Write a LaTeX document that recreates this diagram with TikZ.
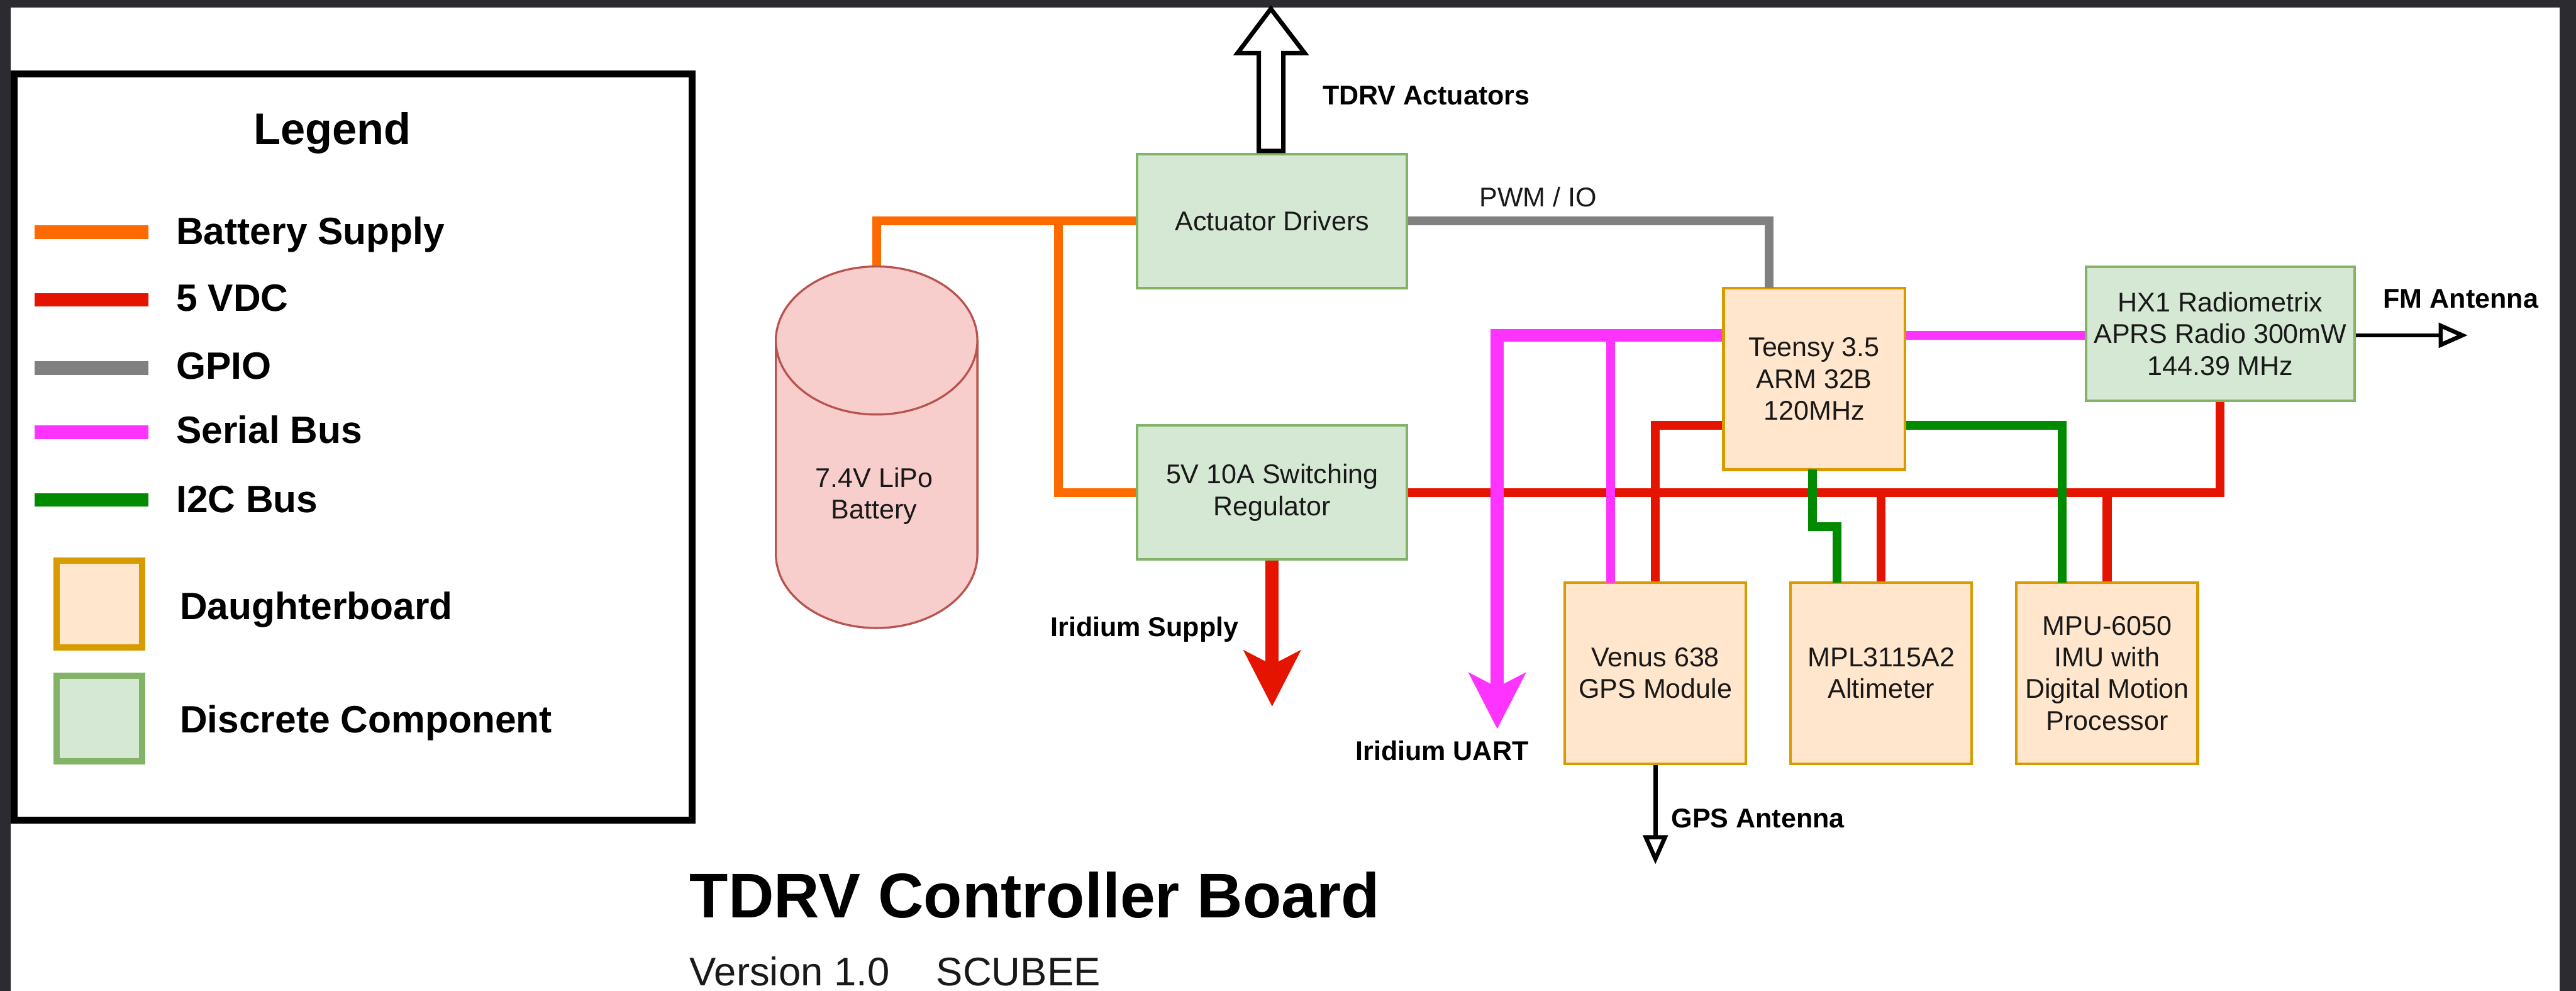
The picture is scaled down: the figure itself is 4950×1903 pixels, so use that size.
\documentclass[tikz,border=0pt]{standalone}
\usepackage{fontspec}
\setmainfont{Liberation Sans}
\usetikzlibrary{arrows.meta,shapes.geometric}

\definecolor{pageDark}{HTML}{2B2B30}
\definecolor{wireOrange}{HTML}{FF6A00}
\definecolor{wireRed}{HTML}{E51400}
\definecolor{wireGray}{HTML}{808080}
\definecolor{wireMagenta}{HTML}{FF33FF}
\definecolor{wireGreen}{HTML}{008A00}

\tikzset{
    % 1 px = 0.1 mm
    boxtext/.style={font=\fontsize{14.8}{17.3}\selectfont, align=center, text=black!90},
    boldtext/.style={font=\fontsize{14.8}{17.3}\selectfont\bfseries, anchor=base west, inner sep=0pt},
    legendtext/.style={font=\fontsize{20.8}{24}\selectfont\bfseries, anchor=base west, inner sep=0pt},
    daughter/.style={boxtext, draw={rgb,255:red,215;green,155;blue,0}, fill={rgb,255:red,255;green,230;blue,204},
        line width=0.5mm, minimum width=34.8mm, minimum height=34.8mm, inner sep=0pt},
    discrete/.style={boxtext, draw={rgb,255:red,130;green,179;blue,102}, fill={rgb,255:red,213;green,232;blue,212},
        line width=0.5mm, inner sep=0pt},
    wire/.style={line width=1.7mm, line join=miter},
    bigtip/.style={-{Stealth[length=10.7mm, width=10.8mm, inset=2.7mm]}},
    opentip/.style={line width=0.8mm, -{Triangle[open, length=5.6mm, width=4.7mm]}},
}

\begin{document}
\begin{tikzpicture}[x=0.01cm, y=-0.01cm]
    \useasboundingbox (0,0) rectangle (4950,1903);
    \fill[pageDark] (0,0) rectangle (4950,1903);
    \fill[white] (21,14) rectangle (4919,1903);

    % 凡例
    \draw[line width=1.3mm] (27,142) rectangle (1330,1575);
    \node[font=\fontsize{24.2}{28}\selectfont\bfseries, anchor=base] (legendTitle) at (639,277) {Legend};
    \foreach \y/\base/\col/\name in {446/469/wireOrange/Battery Supply, 576/598/wireRed/5 VDC, 707/728/wireGray/GPIO,
                                     830/851/wireMagenta/Serial Bus, 960/984/wireGreen/I2C Bus} {
        \draw[\col, line width=2.6mm] (67,\y) -- (285,\y);
        \node[legendtext] at (338,\base) {\name};
    }
    \node[daughter, minimum width=16.4mm, minimum height=16.6mm, line width=1.2mm] (legendDaughter) at (191,1160) {};
    \node[discrete, minimum width=16.4mm, minimum height=16.5mm, line width=1.2mm] (legendDiscrete) at (191,1380) {};
    \node[legendtext] at (345,1190) {Daughterboard};
    \node[legendtext] at (345,1407) {Discrete Component};

    % ブロック
    \node[cylinder, shape border rotate=90, aspect=1.26, draw={rgb,255:red,184;green,84;blue,80},
        fill={rgb,255:red,248;green,206;blue,204}, line width=0.4mm, minimum width=38.7mm, minimum height=69.4mm,
        inner sep=0pt, boxtext, anchor=shape center] (battery) at (1684.5,859) {\phantom{7.4V LiPo}\\\phantom{Battery}};
    \node[boxtext] (batteryLabel) at (1680,953) {7.4V LiPo\\Battery};
    \node[discrete, minimum width=51.8mm, minimum height=25.7mm] (actDrv) at (2444.5,424.5) {Actuator Drivers};
    \node[discrete, minimum width=51.8mm, minimum height=25.7mm] (regulator) at (2444.5,946) {5V 10A Switching\\Regulator};
    \node[daughter] (teensy) at (3486,728) {Teensy 3.5\\ARM 32B\\120MHz};
    \node[discrete, minimum width=51.6mm, minimum height=25.7mm] (radio) at (4266.5,641) {HX1 Radiometrix\\APRS Radio 300mW\\144.39 MHz};
    \node[daughter] (gps) at (3181,1293) {Venus 638\\GPS Module};
    \node[daughter] (altimeter) at (3615,1293) {MPL3115A2\\Altimeter};
    \node[daughter] (imu) at (4049,1293) {MPU-6050\\IMU with\\Digital Motion\\Processor};

    % 配線
    \coordinate (busCorner) at (2034,424.5);
    \draw[wire, wireOrange] (battery.north) |- (actDrv.west);
    \draw[wire, wireOrange] (busCorner) |- (regulator.west);
    \draw[wire, wireGray] (actDrv.east) -| (3399,554);

    \draw[wire, wireRed] (regulator.east) -| (radio.south);
    \draw[wire, wireRed] (teensy.west |- 0,817) -| (gps.north);
    \draw[wire, wireRed] (altimeter.north) -- (3615,945);
    \draw[wire, wireRed] (imu.north) -- (4049,945);
    \draw[wire, line width=2.5mm, wireRed, bigtip] (regulator.south) -- (2444.5,1357);

    \draw[wire, wireMagenta] (3095,644) -- (3095,1119);
    \draw[wire, line width=2.5mm, wireMagenta, bigtip] (teensy.west |- 0,644) -| (2877,1400);
    \draw[wire, wireMagenta] (teensy.east |- 0,644) -- (radio.west |- 0,644);

    \draw[wire, wireGreen] (teensy.east |- 0,817) -| (3963,1119);
    \draw[wire, wireGreen] (3483,902) |- (3530,1011) -- (3530,1119);

    % 矢印
    \draw[line width=0.85mm, line join=miter, fill=white] (2419,290) -- (2419,102) -- (2378,102) -- (2442,17) -- (2507,102) -- (2466,102) -- (2466,290) -- cycle;
    \draw[opentip] (radio.east |- 0,644) -- (4742,644);
    \draw[opentip] (gps.south) -- (3181,1660);

    % ラベル
    \node[boxtext, anchor=base west, inner sep=0pt] (pwmLabel) at (2842,397) {PWM / IO};
    \node[boldtext] (actLabel) at (2541,201) {TDRV Actuators};
    \node[boldtext] (supplyLabel) at (2018,1222) {Iridium Supply};
    \node[boldtext] (uartLabel) at (2604,1461) {Iridium UART};
    \node[boldtext] (fmLabel) at (4579,592) {FM Antenna};
    \node[boldtext] (gpsLabel) at (3211,1590) {GPS Antenna};

    \node[font=\fontsize{34.5}{40}\selectfont\bfseries, anchor=base west, inner sep=0pt] (title) at (1325,1763) {TDRV Controller Board};
    \node[font=\fontsize{21.8}{25}\selectfont, anchor=base west, inner sep=0pt, text=black!90] (version) at (1325,1893) {Version 1.0\hspace{9mm}SCUBEE};
\end{tikzpicture}
\end{document}
